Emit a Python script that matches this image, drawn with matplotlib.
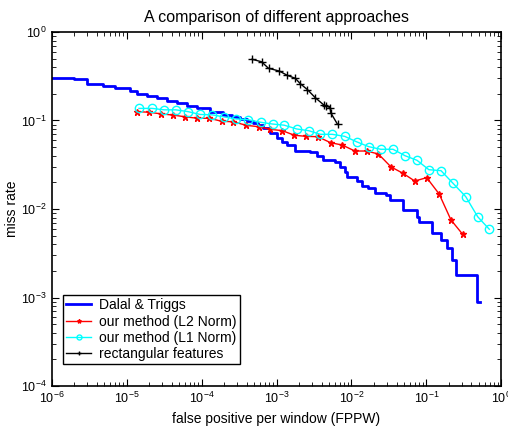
import numpy as np
import matplotlib
matplotlib.use('Agg')
import matplotlib.pyplot as plt
from matplotlib.ticker import LogLocator, NullFormatter

plt.rcParams['font.family'] = ['Liberation Sans', 'DejaVu Sans']
plt.rcParams['mathtext.fontset'] = 'custom'
plt.rcParams['mathtext.rm'] = 'Liberation Sans'

# Dalal & Triggs (staircase, steps-post)
dalal_fppw = [1.0e-6, 1.99e-6, 2.99e-6, 4.89e-6, 7.0e-6, 1.11e-5, 1.39e-5, 1.85e-5,
              2.52e-5, 3.43e-5, 4.66e-5, 6.34e-5, 8.61e-5, 1.30e-4, 1.95e-4, 2.55e-4,
              3.26e-4, 4.04e-4, 4.90e-4, 5.66e-4, 6.67e-4, 8.18e-4, 1.01e-3, 1.19e-3,
              1.37e-3, 1.77e-3, 2.80e-3, 3.44e-3, 4.22e-3, 6.04e-3, 7.05e-3, 8.20e-3,
              8.65e-3, 1.17e-2, 1.37e-2, 1.66e-2, 2.07e-2, 2.89e-2, 3.27e-2, 4.92e-2,
              7.43e-2, 8.05e-2, 0.120, 0.157, 0.187, 0.218, 0.249, 0.479, 0.520]
dalal_miss = [0.306, 0.292, 0.261, 0.245, 0.231, 0.217, 0.199, 0.189,
              0.178, 0.167, 0.159, 0.147, 0.137, 0.126, 0.115, 0.110,
              0.103, 0.0987, 0.0929, 0.0878, 0.0816, 0.0716, 0.0629, 0.0579,
              0.0529, 0.0456, 0.0437, 0.0397, 0.0358, 0.0342, 0.0301, 0.0264,
              0.0232, 0.0209, 0.0182, 0.0173, 0.0153, 0.0144, 0.0126, 0.00975,
              0.00819, 0.00718, 0.00540, 0.00447, 0.00358, 0.00265, 0.00180, 0.000897, 0.000897]

# our method (L2 Norm)
l2_fppw = [1.39e-5, 1.97e-5, 2.85e-5, 4.20e-5, 6.07e-5, 8.77e-5, 1.27e-4, 1.86e-4,
           2.65e-4, 3.92e-4, 5.85e-4, 8.18e-4, 1.20e-3, 1.73e-3, 2.48e-3, 3.55e-3,
           5.28e-3, 7.55e-3, 1.11e-2, 1.60e-2, 2.29e-2, 3.37e-2, 4.88e-2, 7.00e-2,
           0.101, 0.148, 0.213, 0.305]
l2_miss = [0.126, 0.124, 0.119, 0.115, 0.110, 0.106, 0.106, 0.0979,
           0.0968, 0.0883, 0.0849, 0.0796, 0.0767, 0.0681, 0.0662, 0.0656,
           0.0561, 0.0528, 0.0452, 0.0452, 0.0418, 0.0299, 0.0253, 0.0207,
           0.0226, 0.0148, 0.00752, 0.00518]

# our method (L1 Norm)
l1_fppw = [1.46e-5, 2.18e-5, 3.18e-5, 4.52e-5, 6.59e-5, 9.53e-5, 1.38e-4, 1.97e-4,
           2.91e-4, 4.21e-4, 6.12e-4, 8.85e-4, 1.27e-3, 1.86e-3, 2.69e-3, 3.85e-3,
           5.56e-3, 8.13e-3, 1.17e-2, 1.70e-2, 2.46e-2, 3.59e-2, 5.19e-2, 7.50e-2,
           0.108, 0.157, 0.227, 0.335, 0.484, 0.692]
l1_miss = [0.137, 0.137, 0.132, 0.132, 0.126, 0.117, 0.116, 0.110,
           0.104, 0.102, 0.0955, 0.0912, 0.0885, 0.0802, 0.0767, 0.0698,
           0.0698, 0.0662, 0.0575, 0.0506, 0.0473, 0.0473, 0.0400, 0.0355,
           0.0278, 0.0271, 0.0195, 0.0138, 0.00818, 0.00590]

# rectangular features
rect_fppw = [4.71e-4, 6.31e-4, 7.82e-4, 1.09e-3, 1.39e-3, 1.78e-3, 2.07e-3,
             2.59e-3, 3.29e-3, 4.27e-3, 4.62e-3, 5.18e-3, 5.33e-3, 6.52e-3]
rect_miss = [0.492, 0.461, 0.389, 0.362, 0.324, 0.300, 0.261,
             0.223, 0.181, 0.150, 0.146, 0.140, 0.121, 0.0906]

fig = plt.figure(figsize=(5.08, 4.30), dpi=100)
ax = fig.add_axes([0.1018, 0.1023, 0.885, 0.8233])

ax.plot(dalal_fppw, dalal_miss, color='#0000ff', lw=2, drawstyle='steps-post',
        label='Dalal & Triggs')
ax.plot(l2_fppw, l2_miss, color='#ff0000', lw=1, marker='*', ms=5,
        label='our method (L2 Norm)')
ax.plot(l1_fppw, l1_miss, color='#00ffff', lw=1, marker='o', ms=6, mfc='none',
        label='our method (L1 Norm)')
ax.plot(rect_fppw, rect_miss, color='black', lw=1, marker='+', ms=6,
        label='rectangular features')

ax.set_xscale('log')
ax.set_yscale('log')
ax.set_xlim(1e-6, 1)
ax.set_ylim(1e-4, 1)
ax.xaxis.set_major_locator(LogLocator(base=10, numticks=10))
ax.yaxis.set_major_locator(LogLocator(base=10, numticks=10))
ax.xaxis.set_minor_locator(LogLocator(base=10, subs=np.arange(2, 10), numticks=20))
ax.yaxis.set_minor_locator(LogLocator(base=10, subs=np.arange(2, 10), numticks=20))
ax.xaxis.set_minor_formatter(NullFormatter())
ax.yaxis.set_minor_formatter(NullFormatter())
ax.tick_params(which='both', direction='in', top=True, right=True, labelsize=9)
ax.tick_params(which='major', length=5)
ax.tick_params(which='minor', length=3)
for s in ax.spines.values():
    s.set_linewidth(1.2)

ax.set_title('A comparison of different approaches', fontsize=11.5, pad=7)
ax.set_xlabel('false positive per window (FPPW)', fontsize=10, labelpad=4)
ax.set_ylabel('miss rate', fontsize=10)
ax.yaxis.set_label_coords(-0.073, 0.5)

leg = ax.legend(loc='lower left', bbox_to_anchor=(0.025, 0.062), numpoints=1,
                fontsize=10, fancybox=False, framealpha=1, edgecolor='black',
                borderaxespad=0, handlelength=1.8, markerscale=0.6,
                labelspacing=0.16, borderpad=0.22, handletextpad=0.6)
leg.get_frame().set_linewidth(1)

fig.savefig('out.png', dpi=100)
